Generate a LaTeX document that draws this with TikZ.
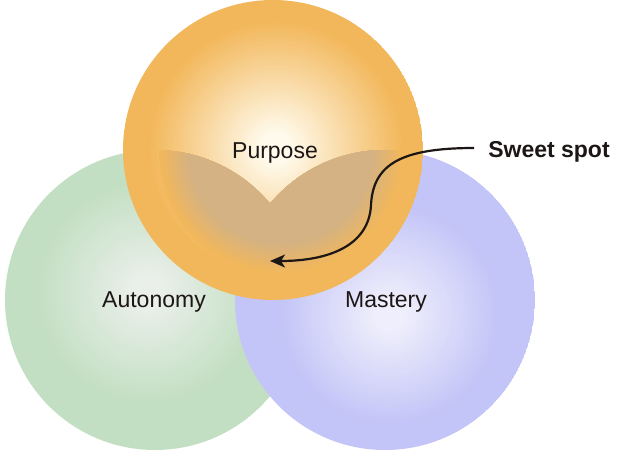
\documentclass[tikz,border=0pt]{standalone}
\usepackage{fontspec}
\setmainfont{Liberation Sans}
\usetikzlibrary{arrows.meta}
\definecolor{gedge}{RGB}{195,223,195}
\definecolor{gcenter}{RGB}{234,239,234}
\definecolor{bedge}{RGB}{195,196,247}
\definecolor{bcenter}{RGB}{238,238,252}
\definecolor{oedge}{RGB}{242,183,90}
\definecolor{ocenter}{RGB}{255,250,236}
\definecolor{sweettan}{RGB}{212,178,132}
\definecolor{ink}{RGB}{28,22,20}
\begin{document}
\begin{tikzpicture}[x=1pt,y=-1pt,
  lbl/.style={font=\fontsize{23}{27}\selectfont, text=ink, inner sep=0pt, anchor=base},
  pointer/.style={draw=ink, line width=2.2pt, -{Stealth[length=15pt,width=13pt,inset=4pt]}}]
\useasboundingbox (0,0) rectangle (619,459);
\coordinate (cA) at (155,300);
\coordinate (cM) at (385,300);
\coordinate (cP) at (273,150);
% Autonomy circle
\begin{scope}
  \clip (cA) circle[radius=150pt];
  \fill[gedge] (cA) circle[radius=150pt];
  \foreach \i in {0,...,40}{
    \pgfmathsetmacro\rr{112-2.4*\i}
    \pgfmathsetmacro\pp{2.5*\i}
    \fill[gcenter!\pp!gedge] (148,292) circle[radius=\rr pt];
  }
\end{scope}
% Mastery circle
\begin{scope}
  \clip (cM) circle[radius=150pt];
  \fill[bedge] (cM) circle[radius=150pt];
  \foreach \i in {0,...,40}{
    \pgfmathsetmacro\rr{112-2.4*\i}
    \pgfmathsetmacro\pp{2.5*\i}
    \fill[bcenter!\pp!bedge] (390,315) circle[radius=\rr pt];
  }
\end{scope}
% Purpose circle
\begin{scope}
  \clip (cP) circle[radius=150pt];
  \fill[oedge] (cP) circle[radius=150pt];
  \foreach \i in {0,...,40}{
    \pgfmathsetmacro\rr{128-2.8*\i}
    \pgfmathsetmacro\pp{2.5*\i}
    \fill[ocenter!\pp!oedge] (276,148) circle[radius=\rr pt];
  }
\end{scope}
% overlap tint
\begin{scope}
  \clip (cA) circle[radius=150pt] (cM) circle[radius=150pt];
  \clip (cP) circle[radius=150pt];
  \foreach \i in {0,...,15}{
    \pgfmathsetmacro\rr{122-2*\i}
    \pgfmathsetmacro\pp{6.67*\i}
    \fill[sweettan!\pp!oedge] (281,152) circle[radius=\rr pt];
  }
  \fill[sweettan] (281,152) circle[radius=92pt];
\end{scope}
% labels
\node[lbl] (purpose) at (275,158) {Purpose};
\node[lbl] (autonomy) at (154,307) {Autonomy};
\node[lbl] (mastery) at (386,307) {Mastery};
\node[lbl, font=\fontsize{23}{27}\selectfont\bfseries] (sweet) at (549,157) {Sweet spot};
\coordinate (start) at ([xshift=-14pt,yshift=9pt]sweet.base west);
\coordinate (tip) at (270,261);
\draw[pointer] (start) .. controls (400,148) and (373,165) .. (371,205)
  .. controls (369,245) and (330,261) .. (tip);
\end{tikzpicture}
\end{document}
